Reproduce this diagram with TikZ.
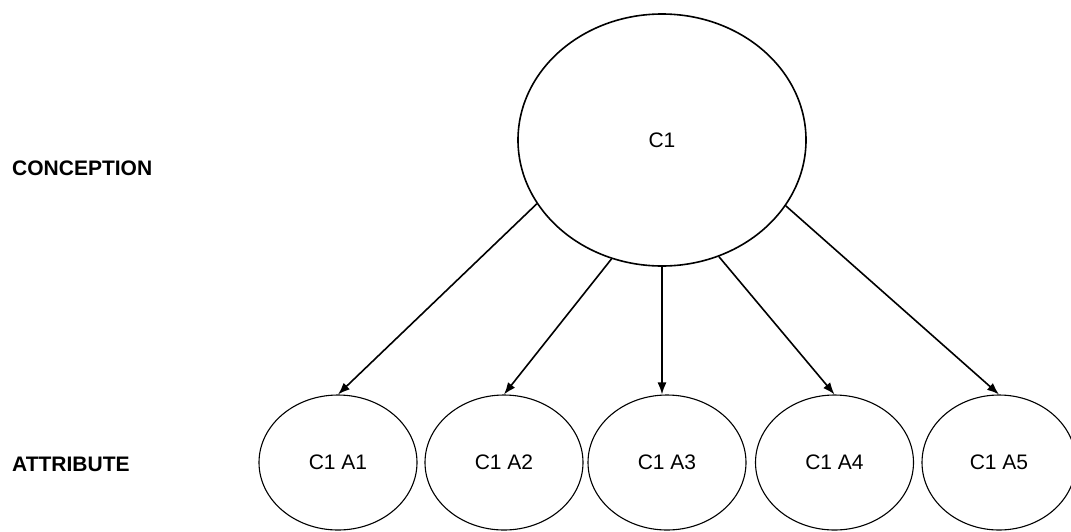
\documentclass[tikz,border=0pt]{standalone}
\usepackage{fontspec}
\setmainfont{Liberation Sans}
\usetikzlibrary{shapes.geometric,arrows.meta}
\tikzset{
  bigell/.style={draw, ellipse, line width=1.6pt, inner sep=0pt, minimum width=288pt, minimum height=252pt, font=\fontsize{21}{25}\selectfont},
  smallell/.style={draw, ellipse, line width=1.1pt, inner sep=0pt, minimum width=158pt, minimum height=135pt, font=\fontsize{21}{25}\selectfont},
  lbl/.style={anchor=west, inner sep=0pt, font=\fontsize{21}{25}\selectfont\bfseries},
  conn/.style={line width=1.6pt, -{Latex[length=12pt,width=9pt]}}
}
\begin{document}
\begin{tikzpicture}[x=1pt,y=-1pt]
\useasboundingbox (0,0) rectangle (1071,531);
\node[bigell] (c1) at (662,140) {C1};
\node[smallell] (a1) at (338,462.5) {C1 A1};
\node[smallell] (a2) at (504,462.5) {C1 A2};
\node[smallell] (a3) at (667,462.5) {C1 A3};
\node[smallell] (a4) at (834.5,462.5) {C1 A4};
\node[smallell, minimum width=154pt] (a5) at (999,462.5) {C1 A5};
\node[lbl] (lc) at (12,168) {CONCEPTION};
\node[lbl] (la) at (12,464) {ATTRIBUTE};
\draw[conn] (c1.207) -- (a1.north);
\draw[conn] (c1.247) -- (a2.north);
\draw[conn] (c1.270) -- (a3.north -| c1.270);
\draw[conn] (c1.296) -- (a4.north);
\draw[conn] (c1.332) -- (a5.north);
\end{tikzpicture}
\end{document}
